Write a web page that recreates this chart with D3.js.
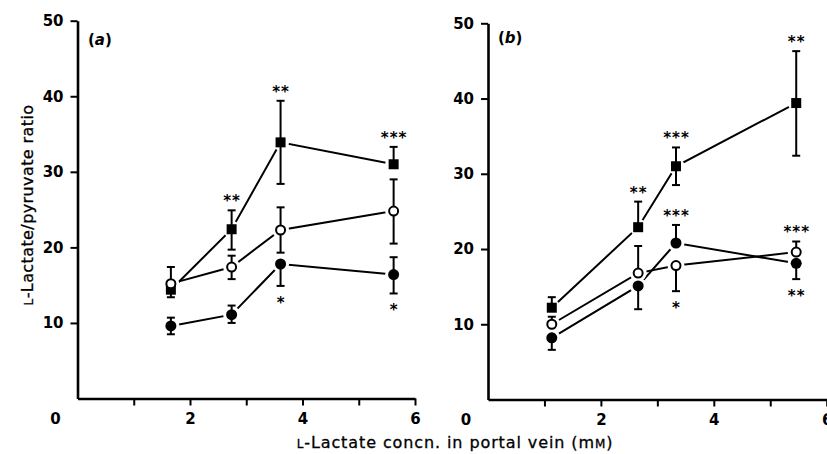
<!DOCTYPE html>
<html><head><meta charset="utf-8">
<script src="https://cdn.jsdelivr.net/npm/d3@7/dist/d3.min.js"></script>
<style>body{margin:0;background:#fff}svg{display:block}</style>
</head><body>
<svg id="c" width="827" height="454"></svg>
<script>
// ---------- data ----------
const xTickValues = [1, 2, 3, 4, 5, 6];
const xLabelValues = [2, 4, 6];
const yTickValues = [10, 20, 30, 40, 50];

// panel (a)
const aX = [1.66, 2.74, 3.61, 5.62];
const aSquare = [14.4, 22.4, 33.9, 31.0];
const aSquareUp = [0, 2.5, 5.5, 2.3];
const aSquareDown = [1.0, 2.7, 5.5, 0];
const aOpen = [15.2, 17.4, 22.3, 24.8];
const aOpenUp = [2.2, 1.5, 3.0, 4.2];
const aOpenDown = [0, 1.6, 3.0, 4.3];
const aFilled = [9.6, 11.1, 17.8, 16.4];
const aFilledUp = [1.1, 1.2, 0, 2.3];
const aFilledDown = [1.1, 1.1, 2.9, 2.5];
const aStars = [
  ["square", 1, "**", "above"],
  ["square", 2, "**", "above"],
  ["square", 3, "***", "above"],
  ["filled", 2, "*", "below"],
  ["filled", 3, "*", "below"]
];

// panel (b)
const bX = [1.13, 2.66, 3.33, 5.46];
const bSquare = [12.2, 22.9, 31.0, 39.4];
const bSquareUp = [1.4, 3.4, 2.5, 6.9];
const bSquareDown = [0, 0, 2.5, 7.0];
const bOpen = [10.0, 16.8, 17.8, 19.6];
const bOpenUp = [1.0, 3.6, 0, 1.4];
const bOpenDown = [0, 0, 3.4, 0];
const bFilled = [8.2, 15.1, 20.8, 18.1];
const bFilledUp = [0, 0, 2.4, 0];
const bFilledDown = [1.6, 3.1, 0, 2.1];
const bStars = [
  ["square", 1, "**", "above"],
  ["square", 2, "***", "above"],
  ["square", 3, "**", "above"],
  ["filled", 2, "***", "above"],
  ["open", 2, "*", "below"],
  ["open", 3, "***", "above"],
  ["filled", 3, "**", "below"]
];

// ---------- drawing ----------
const svg = d3.select("#c");
const FONT = "'DejaVu Sans', sans-serif";

function buildSeries(x, sq, sqU, sqD, op, opU, opD, fi, fiU, fiD) {
  const mk = (v, u, d) => x.map((xx, i) => ({x: xx, y: v[i], up: u[i], down: d[i]}));
  return {square: mk(sq, sqU, sqD), open: mk(op, opU, opD), filled: mk(fi, fiU, fiD)};
}

const panels = [
  {label: "a", xr: [77.5, 415], yr: [398.5, 20.7], labX: 88, labY: 45,
   series: buildSeries(aX, aSquare, aSquareUp, aSquareDown, aOpen, aOpenUp, aOpenDown, aFilled, aFilledUp, aFilledDown),
   stars: aStars},
  {label: "b", xr: [488, 826.7], yr: [399.5, 23.3], labX: 498, labY: 43,
   series: buildSeries(bX, bSquare, bSquareUp, bSquareDown, bOpen, bOpenUp, bOpenDown, bFilled, bFilledUp, bFilledDown),
   stars: bStars}
];

panels.forEach(p => {
  const x = d3.scaleLinear().domain([0, 6]).range(p.xr);
  const y = d3.scaleLinear().domain([0, 50]).range(p.yr);
  const g = svg.append("g");

  // axes
  const ya = g.append("g").attr("transform", `translate(${p.xr[0]},0)`)
    .call(d3.axisLeft(y).tickValues(yTickValues).tickSize(7).tickSizeOuter(0).tickPadding(7));
  const xa = g.append("g").attr("transform", `translate(0,${p.yr[0]})`)
    .call(d3.axisBottom(x).tickValues(xTickValues).tickSize(7).tickSizeOuter(0).tickPadding(8)
      .tickFormat(d => xLabelValues.includes(d) ? d : ""));
  [ya, xa].forEach(a => {
    a.select(".domain").attr("stroke", "#000").attr("stroke-width", 2.6);
    a.selectAll(".tick line").attr("stroke", "#000").attr("stroke-width", 2);
    a.selectAll("text").attr("font-family", FONT).attr("font-weight", "bold")
      .attr("font-size", 15).attr("fill", "#000");
  });
  // zero label at the corner
  g.append("text").attr("x", x(0) - 22).attr("y", p.yr[0] + 25)
    .attr("text-anchor", "middle").attr("font-family", FONT).attr("font-weight", "bold")
    .attr("font-size", 15).text("0");

  // panel label
  const pl = g.append("text").attr("x", p.labX).attr("y", p.labY)
    .attr("font-family", FONT).attr("font-size", 15).attr("font-weight", "bold");
  pl.append("tspan").text("(");
  pl.append("tspan").attr("font-style", "italic").text(p.label);
  pl.append("tspan").text(")");

  const names = ["square", "open", "filled"];
  const line = d3.line().x(d => x(d.x)).y(d => y(d.y));

  // connecting lines
  names.forEach(n => {
    g.append("path").datum(p.series[n]).attr("d", line)
      .attr("fill", "none").attr("stroke", "#000").attr("stroke-width", 2);
  });
  // white halos (gaps around markers)
  names.forEach(n => {
    g.selectAll(null).data(p.series[n]).enter().append("circle")
      .attr("cx", d => x(d.x)).attr("cy", d => y(d.y)).attr("r", 8.5).attr("fill", "#fff");
  });
  // error bars
  names.forEach(n => {
    p.series[n].forEach(d => {
      [["up", 1], ["down", -1]].forEach(([k, s]) => {
        if (!d[k]) return;
        const yEnd = y(d.y + s * d[k]);
        g.append("line").attr("x1", x(d.x)).attr("x2", x(d.x))
          .attr("y1", y(d.y)).attr("y2", yEnd).attr("stroke", "#000").attr("stroke-width", 2);
        g.append("line").attr("x1", x(d.x) - 4).attr("x2", x(d.x) + 4)
          .attr("y1", yEnd).attr("y2", yEnd).attr("stroke", "#000").attr("stroke-width", 2);
      });
    });
  });
  // markers
  g.selectAll(null).data(p.series.square).enter().append("rect")
    .attr("x", d => x(d.x) - 5).attr("y", d => y(d.y) - 5)
    .attr("width", 10).attr("height", 10).attr("fill", "#000");
  g.selectAll(null).data(p.series.filled).enter().append("circle")
    .attr("cx", d => x(d.x)).attr("cy", d => y(d.y)).attr("r", 5.5).attr("fill", "#000");
  g.selectAll(null).data(p.series.open).enter().append("circle")
    .attr("cx", d => x(d.x)).attr("cy", d => y(d.y)).attr("r", 4.5)
    .attr("fill", "#fff").attr("stroke", "#000").attr("stroke-width", 2);

  // significance stars
  p.stars.forEach(([n, i, t, pos]) => {
    const d = p.series[n][i];
    const cy = pos === "above" ? y(d.y + d.up) - 13 : y(d.y - d.down) + 13;
    g.append("text").attr("x", x(d.x) + 0.5).attr("y", cy + 9)
      .attr("text-anchor", "middle").attr("font-family", FONT).attr("font-weight", "bold")
      .attr("font-size", 15).attr("letter-spacing", 1).text(t);
  });
});

// axis titles
const yt = svg.append("text").attr("transform", "translate(33,205) rotate(-90)")
  .attr("text-anchor", "middle").attr("font-family", FONT).attr("font-size", 16)
  .attr("letter-spacing", 0.4).attr("stroke", "#000").attr("stroke-width", 0.3);
yt.append("tspan").attr("font-size", 12).text("L");
yt.append("tspan").text("-Lactate/pyruvate ratio");

const xt = svg.append("text").attr("x", 455).attr("y", 448)
  .attr("text-anchor", "middle").attr("font-family", FONT).attr("font-size", 16)
  .attr("letter-spacing", 0.9).attr("stroke", "#000").attr("stroke-width", 0.3);
xt.append("tspan").attr("font-size", 12).text("L");
xt.append("tspan").text("-Lactate concn. in portal vein (m");
xt.append("tspan").attr("font-size", 12).text("M");
xt.append("tspan").text(")");
</script>
</body></html>
